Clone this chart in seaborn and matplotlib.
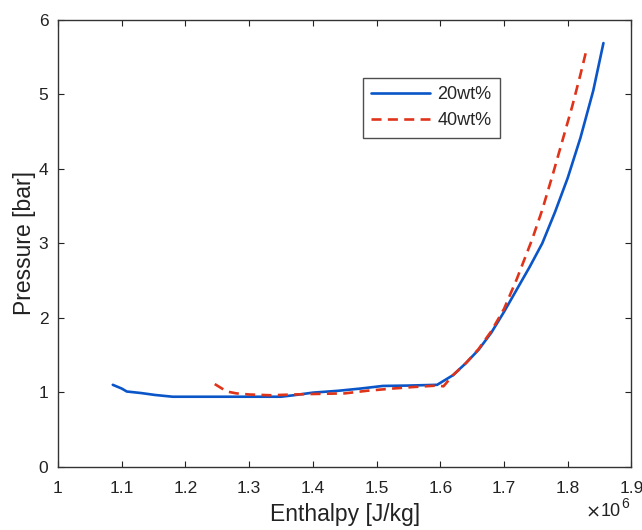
import matplotlib
matplotlib.use("Agg")
import matplotlib.pyplot as plt
import seaborn as sns
import pandas as pd
from matplotlib.ticker import FuncFormatter, MultipleLocator

# Data (enthalpy in 10^6 J/kg, pressure in bar)
h_20 = [1.086, 1.10, 1.108, 1.13, 1.152, 1.18, 1.25, 1.35, 1.37, 1.40, 1.44,
        1.475, 1.51, 1.55, 1.595, 1.62, 1.64, 1.66, 1.68, 1.70, 1.72,
        1.74, 1.76, 1.78, 1.80, 1.82, 1.84, 1.856]
p_20 = [1.10, 1.05, 1.01, 0.99, 0.964, 0.94, 0.94, 0.94, 0.96, 0.995, 1.02,
        1.05, 1.085, 1.09, 1.10, 1.23, 1.39, 1.57, 1.80, 2.08, 2.38,
        2.68, 3.00, 3.42, 3.88, 4.42, 5.05, 5.69]
h_40 = [1.246, 1.265, 1.28, 1.30, 1.333, 1.39, 1.45, 1.485, 1.525, 1.557,
        1.595, 1.605, 1.62, 1.64, 1.66, 1.68, 1.70, 1.72, 1.744, 1.76,
        1.777, 1.79, 1.807, 1.82, 1.830]
p_40 = [1.11, 1.01, 0.985, 0.97, 0.96, 0.975, 0.985, 1.02, 1.05, 1.07,
        1.09, 1.08, 1.23, 1.39, 1.58, 1.82, 2.12, 2.52, 3.05, 3.45,
        3.94, 4.33, 4.84, 5.27, 5.62]
labels = ["20wt%", "40wt%"]

df = pd.concat([
    pd.DataFrame({"h": [v * 1e6 for v in h_20], "p": p_20, "s": labels[0]}),
    pd.DataFrame({"h": [v * 1e6 for v in h_40], "p": p_40, "s": labels[1]}),
])

sns.set_style("ticks")
plt.rcParams["font.family"] = ["Liberation Sans", "DejaVu Sans"]

fig = plt.figure(figsize=(6.42, 5.30), dpi=100)
ax = fig.add_axes([0.0903, 0.1194, 0.8933, 0.8429])

sns.lineplot(data=df, x="h", y="p", hue="s", style="s", sort=False,
             palette={labels[0]: "#0a55c8", labels[1]: "#e0341a"},
             dashes={labels[0]: "", labels[1]: (3.8, 2.4)},
             linewidth=1.9, ax=ax, estimator=None)

ax.set_xlim(1.0e6, 1.9e6)
ax.set_ylim(0, 6)
ax.xaxis.set_major_locator(MultipleLocator(0.1e6))
ax.yaxis.set_major_locator(MultipleLocator(1))
ax.xaxis.set_major_formatter(FuncFormatter(lambda v, pos: f"{v/1e6:g}"))
ax.yaxis.set_major_formatter(FuncFormatter(lambda v, pos: f"{v:g}"))
ax.tick_params(direction="in", length=4, width=0.8, labelsize=12.5, colors="#222222",
               top=True, right=True)
ax.tick_params(axis="x", pad=10)
ax.tick_params(axis="y", pad=7)
for sp in ax.spines.values():
    sp.set_linewidth(1.0)
    sp.set_color("#333333")
    sp.set_visible(True)

ax.set_xlabel("Enthalpy [J/kg]", fontsize=16.5, color="#222222", labelpad=5)
ax.set_ylabel("Pressure [bar]", fontsize=16.5, color="#222222", labelpad=2)

# "×10^6" multiplier at the bottom right, MATLAB style
anchor = (0.995, -0.10)
ax.annotate("6", xy=anchor, xycoords="axes fraction", xytext=(0, 7),
            textcoords="offset pixels", ha="right", va="center", fontsize=10,
            color="#222222")
ax.annotate("10", xy=anchor, xycoords="axes fraction", xytext=(-8, 0),
            textcoords="offset pixels", ha="right", va="center", fontsize=13,
            color="#222222")
ax.annotate("×", xy=anchor, xycoords="axes fraction", xytext=(-28, -1),
            textcoords="offset pixels", ha="right", va="center", fontsize=13,
            color="#222222", family=["DejaVu Sans"])

leg = ax.legend(loc="upper left", bbox_to_anchor=(0.531, 0.8695), fontsize=13,
                frameon=True, fancybox=False, edgecolor="#222222", borderaxespad=0,
                handlelength=3.3, borderpad=0.45, labelspacing=0.5, handletextpad=0.4)
leg.get_frame().set_linewidth(1.0)
leg.set_title(None)

fig.savefig("out.png", dpi=100)
